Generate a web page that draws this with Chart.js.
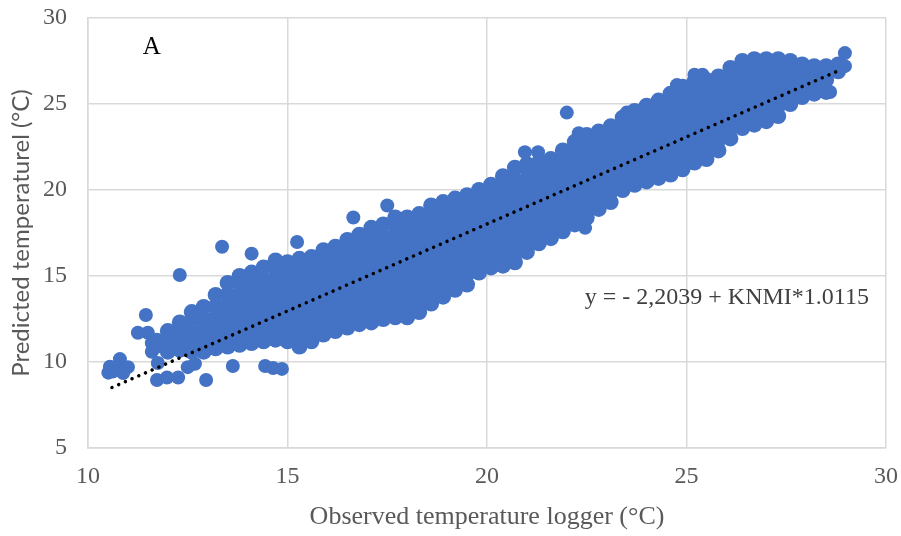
<!DOCTYPE html>
<html>
<head>
<meta charset="utf-8">
<script src="https://cdn.jsdelivr.net/npm/chart.js@4.4.1/dist/chart.umd.min.js"></script>
<style>
  body { margin: 0; background: #fff; }
</style>
</head>
<body>
<canvas id="tempChart" width="901" height="536"></canvas>
<script>
// observed logger temperature (columns) and predicted temperatures in each column
const bandX = [12.0, 12.3, 12.6, 12.9, 13.2, 13.5, 13.8, 14.1, 14.4, 14.7,
    15.0, 15.3, 15.6, 15.9, 16.2, 16.5, 16.8, 17.1, 17.4, 17.7,
    18.0, 18.3, 18.6, 18.9, 19.2, 19.5, 19.8, 20.1, 20.4, 20.7,
    21.0, 21.3, 21.6, 21.9, 22.2, 22.5, 22.8, 23.1, 23.4, 23.7,
    24.0, 24.3, 24.6, 24.9, 25.2, 25.5, 25.8, 26.1, 26.4, 26.7,
    27.0, 27.3, 27.6, 27.9, 28.2, 28.5, 28.8];
const bandY = [
    [10.6, 11.2, 11.8],
    [10.7, 11.3, 11.9, 12.3],
    [10.6, 11.2, 11.8, 12.4, 12.9],
    [10.6, 11.2, 11.8, 12.5, 13.2],
    [10.8, 11.4, 12.0, 12.6, 13.2, 13.9],
    [10.9, 11.5, 12.1, 12.7, 13.3, 13.9, 14.6],
    [11.0, 11.6, 12.2, 12.8, 13.4, 14.0, 14.6, 15.0],
    [11.1, 11.7, 12.3, 12.9, 13.5, 14.1, 14.7, 15.2],
    [11.2, 11.8, 12.4, 13.0, 13.6, 14.2, 14.8, 15.5],
    [11.3, 11.9, 12.5, 13.1, 13.7, 14.3, 14.9, 15.5, 15.9],
    [11.2, 11.8, 12.4, 13.0, 13.6, 14.2, 14.8, 15.4, 15.8],
    [10.9, 11.5, 12.1, 12.7, 13.3, 13.9, 14.5, 15.1, 15.7, 16.0],
    [11.2, 11.8, 12.4, 13.0, 13.6, 14.2, 14.8, 15.4, 16.1],
    [11.6, 12.2, 12.8, 13.4, 14.0, 14.6, 15.2, 15.8, 16.5],
    [11.8, 12.4, 13.0, 13.6, 14.2, 14.8, 15.4, 16.0, 16.7],
    [12.0, 12.6, 13.2, 13.8, 14.4, 15.0, 15.6, 16.2, 16.7, 17.1],
    [12.2, 12.8, 13.4, 14.0, 14.6, 15.2, 15.8, 16.4, 17.0, 17.4],
    [12.3, 12.9, 13.5, 14.1, 14.7, 15.3, 15.9, 16.5, 17.1, 17.8],
    [12.5, 13.1, 13.7, 14.3, 14.9, 15.5, 16.1, 16.7, 17.3, 18.0],
    [12.6, 13.2, 13.8, 14.4, 15.0, 15.6, 16.2, 16.8, 17.4, 18.0, 18.4],
    [12.6, 13.2, 13.8, 14.4, 15.0, 15.6, 16.2, 16.8, 17.4, 18.0, 18.4],
    [12.9, 13.5, 14.1, 14.7, 15.3, 15.9, 16.5, 17.1, 17.7, 18.3, 18.6],
    [13.4, 14.0, 14.6, 15.2, 15.8, 16.4, 17.0, 17.6, 18.2, 18.7, 19.1],
    [13.8, 14.4, 15.0, 15.6, 16.2, 16.8, 17.4, 18.0, 18.6, 19.3],
    [14.2, 14.8, 15.4, 16.0, 16.6, 17.2, 17.8, 18.4, 19.0, 19.5],
    [14.5, 15.1, 15.7, 16.3, 16.9, 17.5, 18.1, 18.7, 19.3, 19.7],
    [15.2, 15.8, 16.4, 17.0, 17.6, 18.2, 18.8, 19.4, 20.0],
    [15.5, 16.1, 16.7, 17.3, 17.9, 18.5, 19.1, 19.7, 20.3],
    [15.6, 16.2, 16.8, 17.4, 18.0, 18.6, 19.2, 19.8, 20.4, 20.8],
    [15.8, 16.4, 17.0, 17.6, 18.2, 18.8, 19.4, 20.0, 20.6, 21.3],
    [16.4, 17.0, 17.6, 18.2, 18.8, 19.4, 20.0, 20.6, 21.2, 21.5],
    [16.9, 17.5, 18.1, 18.7, 19.3, 19.9, 20.5, 21.1, 21.6],
    [17.2, 17.8, 18.4, 19.0, 19.6, 20.2, 20.8, 21.4, 21.8],
    [17.6, 18.2, 18.8, 19.4, 20.0, 20.6, 21.2, 21.8, 22.3],
    [18.0, 18.6, 19.2, 19.8, 20.4, 21.0, 21.6, 22.2, 22.8],
    [18.4, 19.0, 19.6, 20.2, 20.8, 21.4, 22.0, 22.6, 23.2],
    [18.9, 19.5, 20.1, 20.7, 21.3, 21.9, 22.5, 23.1, 23.4],
    [19.3, 19.9, 20.5, 21.1, 21.7, 22.3, 22.9, 23.5, 23.7],
    [20.0, 20.6, 21.2, 21.8, 22.4, 23.0, 23.6, 24.2],
    [20.3, 20.9, 21.5, 22.1, 22.7, 23.3, 23.9, 24.6],
    [20.5, 21.1, 21.7, 22.3, 22.9, 23.5, 24.1, 24.7, 24.9],
    [20.7, 21.3, 21.9, 22.5, 23.1, 23.7, 24.3, 24.9, 25.2],
    [20.9, 21.5, 22.1, 22.7, 23.3, 23.9, 24.5, 25.1, 25.6],
    [21.2, 21.8, 22.4, 23.0, 23.6, 24.2, 24.8, 25.4, 26.0],
    [21.6, 22.2, 22.8, 23.4, 24.0, 24.6, 25.2, 25.8, 26.3],
    [21.8, 22.4, 23.0, 23.6, 24.2, 24.8, 25.4, 26.0, 26.4],
    [22.3, 22.9, 23.5, 24.1, 24.7, 25.3, 25.9, 26.6],
    [23.0, 23.6, 24.2, 24.8, 25.4, 26.0, 26.6, 27.1],
    [23.6, 24.2, 24.8, 25.4, 26.0, 26.6, 27.1, 27.5],
    [23.8, 24.4, 25.0, 25.6, 26.2, 26.8, 27.3, 27.6],
    [24.0, 24.6, 25.2, 25.8, 26.4, 27.0, 27.6],
    [24.3, 24.9, 25.5, 26.1, 26.7, 27.2, 27.6],
    [25.0, 25.6, 26.2, 26.8, 27.5],
    [25.4, 26.0, 26.6, 27.3],
    [25.6, 26.2, 26.8, 27.2],
    [25.7, 26.4, 26.9, 27.2],
    [26.9, 27.3]
];

// scattered points away from the main cloud
const outX = [10.55, 10.51, 10.8, 10.75, 11.0, 10.88, 10.62, 11.45, 11.25, 11.5,
    11.6, 11.73, 11.6, 11.75, 11.75, 11.73, 11.98, 12.26, 12.3, 12.5,
    12.68, 12.96, 13.36, 13.63, 14.1, 14.44, 14.64, 14.86, 15.24, 16.65,
    17.5, 20.95, 21.28, 22.0, 22.3, 22.46, 23.5, 24.76, 25.2, 25.4,
    28.97, 28.97, 28.6];
const outY = [9.73, 9.38, 10.17, 9.77, 9.7, 9.36, 9.45, 12.73, 11.7, 11.7,
    11.1, 11.3, 10.6, 10.9, 9.94, 8.95, 9.1, 9.1, 15.06, 9.7,
    9.9, 8.95, 16.7, 9.77, 16.3, 9.77, 9.65, 9.6, 16.98, 18.4,
    19.1, 22.2, 22.2, 24.5, 23.3, 17.8, 24.5, 26.1, 26.7, 26.7,
    27.96, 27.2, 25.7];

// trendline as printed in the chart
const trendIntercept = -2.2039;
const trendSlope = 1.0115;
const trendX = [10.6, 28.9];

const xTicks = [10, 15, 20, 25, 30];
const yTicks = [5, 10, 15, 20, 25, 30];

const bandPoints = [];
bandX.forEach(function(x, i) {
    bandY[i].forEach(function(y) {
        bandPoints.push({ x: x, y: y });
    });
});
const outPoints = outX.map(function(x, i) {
    return { x: x, y: outY[i] };
});

const trendPoints = trendX.map(function(x) {
    return { x: x, y: trendIntercept + trendSlope * x };
});

const labelPlugin = {
    id: 'labels',
    afterDatasetsDraw: function(chart) {
        const ctx = chart.ctx;
        const xs = chart.scales.x;
        const ys = chart.scales.y;
        ctx.save();
        ctx.textBaseline = 'middle';
        ctx.textAlign = 'center';
        ctx.fillStyle = '#000';
        ctx.font = '25px "Liberation Serif"';
        ctx.fillText('A', xs.getPixelForValue(11.6), ys.getPixelForValue(28.3));
        ctx.textAlign = 'left';
        ctx.fillStyle = '#404040';
        ctx.font = '24px "Liberation Serif"';
        ctx.fillText('y = - 2,2039 + KNMI*1.0115', xs.getPixelForValue(22.45), ys.getPixelForValue(13.72));
        ctx.restore();
    }
};

const gridColor = '#d9d9d9';
const blue = '#4472C4';

new Chart(document.getElementById('tempChart'), {
    type: 'scatter',
    data: {
        datasets: [
            {
                label: 'trend',
                data: trendPoints,
                showLine: true,
                borderColor: '#000',
                borderWidth: 3.5,
                borderDash: [0.01, 7.3],
                borderCapStyle: 'round',
                pointRadius: 0
            },
            {
                label: 'band',
                data: bandPoints,
                backgroundColor: blue,
                borderWidth: 0,
                pointRadius: 8,
                pointHoverRadius: 8
            },
            {
                label: 'scatter',
                data: outPoints,
                backgroundColor: blue,
                borderWidth: 0,
                pointRadius: 7,
                pointHoverRadius: 7
            }
        ]
    },
    options: {
        responsive: false,
        animation: false,
        layout: { padding: { left: 0, right: 15, top: 18, bottom: 0 } },
        plugins: {
            legend: { display: false },
            tooltip: { enabled: false }
        },
        scales: {
            x: {
                type: 'linear',
                min: 10,
                max: 30,
                afterBuildTicks: function(scale) {
                    scale.ticks = xTicks.map(function(v) { return { value: v }; });
                },
                afterFit: function(scale) {
                    scale.height = 88;
                    scale.paddingLeft = 0;
                    scale.paddingRight = 0;
                },
                grid: { color: gridColor, lineWidth: 1.5, drawTicks: false },
                border: { color: gridColor, width: 1.5 },
                ticks: {
                    padding: 14,
                    color: '#595959',
                    font: { family: '"Liberation Serif"', size: 24 }
                },
                title: {
                    display: true,
                    text: 'Observed temperature logger (°C)',
                    color: '#595959',
                    font: { family: '"Liberation Serif"', size: 26, weight: 'normal' },
                    padding: { top: 0, bottom: 3 }
                }
            },
            y: {
                type: 'linear',
                min: 5,
                max: 30,
                afterBuildTicks: function(scale) {
                    scale.ticks = yTicks.map(function(v) { return { value: v }; });
                },
                afterFit: function(scale) {
                    scale.width = 88;
                    scale.paddingTop = 0;
                    scale.paddingBottom = 0;
                },
                grid: { color: gridColor, lineWidth: 1.5, drawTicks: false },
                border: { color: gridColor, width: 1.5 },
                ticks: {
                    padding: 21,
                    color: '#595959',
                    font: { family: '"Liberation Serif"', size: 24 }
                },
                title: {
                    display: true,
                    text: 'Predicted temperaturel (°C)',
                    color: '#595959',
                    font: { family: 'Lato', size: 24, weight: 'normal' },
                    padding: { top: 7, bottom: 0 }
                }
            }
        }
    },
    plugins: [labelPlugin]
});
</script>
</body>
</html>
